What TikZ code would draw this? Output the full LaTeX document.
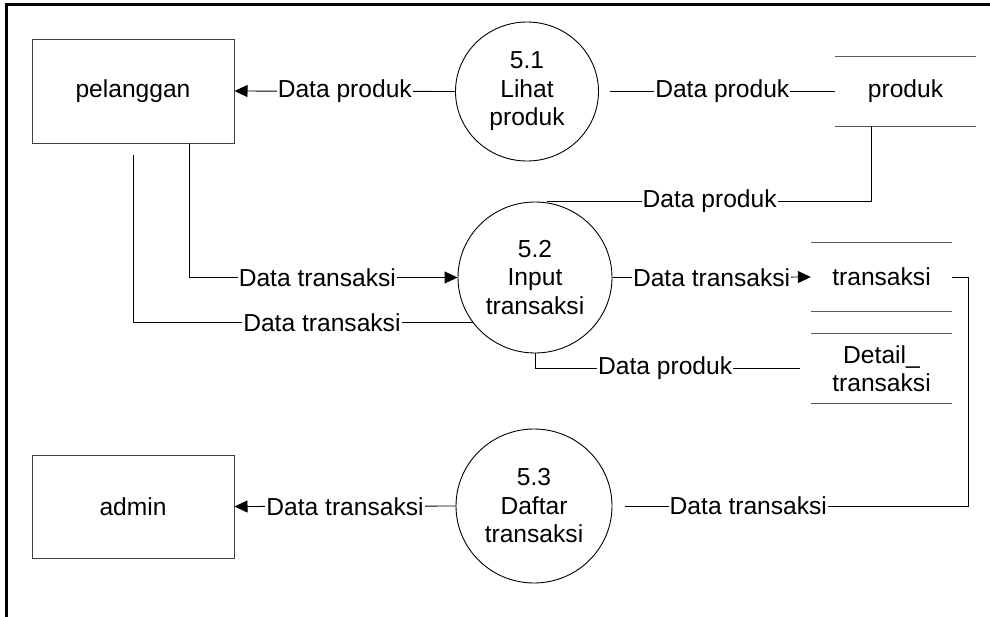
\documentclass[tikz,border=0pt]{standalone}
\usepackage{fontspec}
\setmainfont{Liberation Sans}
\usetikzlibrary{arrows.meta,shapes.geometric}
\begin{document}
\begin{tikzpicture}[x=1pt,y=-1pt,
  every node/.style={font=\fontsize{24.6}{28.5}\selectfont, inner sep=0pt},
  every label/.style={align=center},
  entity/.style={draw=black!75, line width=1pt, minimum width=202pt, minimum height=104pt},
  proc/.style={draw=black, line width=0.9pt, ellipse},
  store/.style={minimum width=141pt, minimum height=68pt, align=center},
  storeline/.style={draw=black!65, line width=1.3pt},
  flow/.style={draw=black, line width=0.9pt},
  arr/.style={-{Triangle[length=13pt,width=12pt]}},
  lbl/.style={fill=white, inner sep=1pt}
]
\useasboundingbox (0,0) rectangle (990,616);
% frame
\draw[line width=3pt] (6.8,620) -- (6.8,4.7) -- (994,4.7);

% external entities
\node[entity] (pel) at (133,91) {pelanggan};
\node[entity, minimum height=103pt] (adm) at (133,506.5) {admin};

% processes
\node[proc, minimum width=143pt, minimum height=139pt, label={center:{5.1\\Lihat\\produk}}] (p51) at (527,91.5) {};
\node[proc, minimum width=154pt, minimum height=151pt, label={center:{5.2\\Input\\transaksi}}] (p52) at (535,277.5) {};
\node[proc, minimum width=156pt, minimum height=154pt, label={center:{5.3\\Daftar\\transaksi}}] (p53) at (534,506) {};

% data stores
\node[store, minimum height=69pt] (prod) at (905.5,91.5) {produk};
\node[store] (trans) at (881.5,277) {transaksi};
\node[store, minimum height=69pt] (det) at (881.5,368.5) {Detail\_\\transaksi};
\draw[storeline] (prod.north west) -- (prod.north east) (prod.south west) -- (prod.south east);
\draw[storeline] (trans.north west) -- (trans.north east) (trans.south west) -- (trans.south east);
\draw[storeline] (det.north west) -- (det.north east) (det.south west) -- (det.south east);

% flows
\draw[flow, arr] (p51.west) -- node[lbl, midway] {Data produk} (pel.east);
\draw[flow, shorten <=11pt] (p51.east) -- node[lbl, pos=0.523] {Data produk} (prod.west);
\draw[flow] ([xshift=-34.5pt]prod.south) |- node[lbl, pos=0.749] {Data produk} ([xshift=12pt]p52.north);
\draw[flow, arr] ([xshift=56pt]pel.south) |- node[lbl, pos=0.739] {Data transaksi} (p52.west);
\draw[flow] ([yshift=-11pt]pel.south) |- node[lbl, pos=0.778] {Data transaksi} (p52.216.5);
\draw[flow, arr] (p52.east) -- node[lbl, pos=0.5] {Data transaksi} (trans.west);
\draw[flow, shorten >=11pt] (p52.south) |- node[lbl, pos=0.736] {Data produk} (det.west);
\coordinate (tc) at ([xshift=16pt]trans.east);
\draw[flow, shorten >=13pt] (trans.east) -- (tc) |- node[lbl, pos=0.809] {Data transaksi} (p53.east);
\draw[flow, arr] (p53.west) -- node[lbl, midway] {Data transaksi} (adm.east);
\end{tikzpicture}
\end{document}
